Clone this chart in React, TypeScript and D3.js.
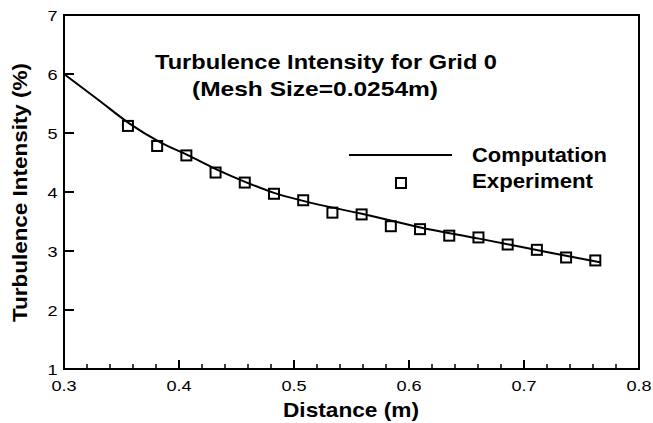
import React from "react";
import * as d3 from "d3";

const expX = [0.3556, 0.381, 0.4064, 0.4318, 0.4572, 0.4826, 0.508, 0.5334, 0.5588, 0.5842, 0.6096, 0.635, 0.6604, 0.6858, 0.7112, 0.7366, 0.762];
const expY = [5.12, 4.78, 4.62, 4.33, 4.16, 3.97, 3.86, 3.65, 3.62, 3.42, 3.37, 3.26, 3.23, 3.11, 3.02, 2.89, 2.84];

const compX = [0.3, 0.33, 0.357, 0.383, 0.408, 0.433, 0.459, 0.482, 0.508, 0.559, 0.61, 0.661, 0.723, 0.766];
const compY = [6.0, 5.56, 5.16, 4.85, 4.62, 4.38, 4.16, 3.99, 3.85, 3.63, 3.4, 3.21, 2.97, 2.81];

const xTicks = [0.3, 0.4, 0.5, 0.6, 0.7, 0.8];
const xMinor = d3.range(0, 26).map((i) => 0.3 + i * 0.02);
const yTicks = [1, 2, 3, 4, 5, 6, 7];

const title1 = "Turbulence Intensity for Grid 0";
const title2 = "(Mesh Size=0.0254m)";
const xTitle = "Distance (m)";
const yTitle = "Turbulence Intensity (%)";
const legendLabels = ["Computation", "Experiment"];

export default function App() {
  const W = 653, H = 423;
  const L = 64, R = 639, T = 15, B = 369;
  const x = d3.scaleLinear().domain([0.3, 0.8]).range([L, R]);
  const y = d3.scaleLinear().domain([1, 7]).range([B, T]);
  const line = d3
    .line<number>()
    .x((_, i) => x(compX[i]))
    .y((d) => y(d))
    .curve(d3.curveMonotoneX);
  const font = "'Liberation Sans', Arial, Helvetica, sans-serif";
  const sx = 1.17;
  return (
    <svg width={W} height={H} style={{ position: "absolute", left: 0, top: 0 }} fontFamily={font}>
      <rect x={0} y={0} width={W} height={H} fill="#fff" />
      {xMinor.map((v, i) => (
        <line key={"mx" + i} x1={x(v)} x2={x(v)} y1={B} y2={B - 5} stroke="#000" strokeWidth={1.5} />
      ))}
      {xTicks.map((v) => (
        <g key={"x" + v}>
          <line x1={x(v)} x2={x(v)} y1={B} y2={B - 9} stroke="#000" strokeWidth={2} />
          <text transform={`translate(${x(v)},390.5) scale(${sx},1)`} textAnchor="middle" fontSize={15.5}>
            {v.toFixed(1)}
          </text>
        </g>
      ))}
      {yTicks.map((v) => (
        <g key={"y" + v}>
          <line x1={L} x2={L + 10} y1={y(v)} y2={y(v)} stroke="#000" strokeWidth={2} />
          <text transform={`translate(57.5,${y(v) + 5.5}) scale(${sx},1)`} textAnchor="end" fontSize={15.5}>
            {v}
          </text>
        </g>
      ))}
      <rect x={L} y={T} width={R - L} height={B - T} fill="none" stroke="#000" strokeWidth={2} />
      <path d={line(compY) || ""} fill="none" stroke="#000" strokeWidth={2} />
      {expY.map((v, i) => (
        <rect key={"p" + i} x={x(expX[i]) - 5} y={y(v) - 5} width={10} height={10} fill="none" stroke="#000" strokeWidth={2} />
      ))}
      <text x={326} y={69} textAnchor="middle" fontSize={21} fontWeight="bold" textLength={342} lengthAdjust="spacingAndGlyphs">
        {title1}
      </text>
      <text x={315} y={96} textAnchor="middle" fontSize={21} fontWeight="bold" textLength={246} lengthAdjust="spacingAndGlyphs">
        {title2}
      </text>
      <line x1={349} x2={452} y1={155} y2={155} stroke="#000" strokeWidth={2} />
      <text x={472} y={162} fontSize={21} fontWeight="bold" textLength={135} lengthAdjust="spacingAndGlyphs">
        {legendLabels[0]}
      </text>
      <rect x={396} y={178} width={10} height={10} fill="none" stroke="#000" strokeWidth={2} />
      <text x={472} y={188} fontSize={21} fontWeight="bold" textLength={121} lengthAdjust="spacingAndGlyphs">
        {legendLabels[1]}
      </text>
      <text x={351} y={417} textAnchor="middle" fontSize={21} fontWeight="bold" textLength={136} lengthAdjust="spacingAndGlyphs">
        {xTitle}
      </text>
      <text transform={`translate(27, 192.5) rotate(-90)`} textAnchor="middle" fontSize={21} fontWeight="bold" textLength={259} lengthAdjust="spacingAndGlyphs">
        {yTitle}
      </text>
    </svg>
  );
}
